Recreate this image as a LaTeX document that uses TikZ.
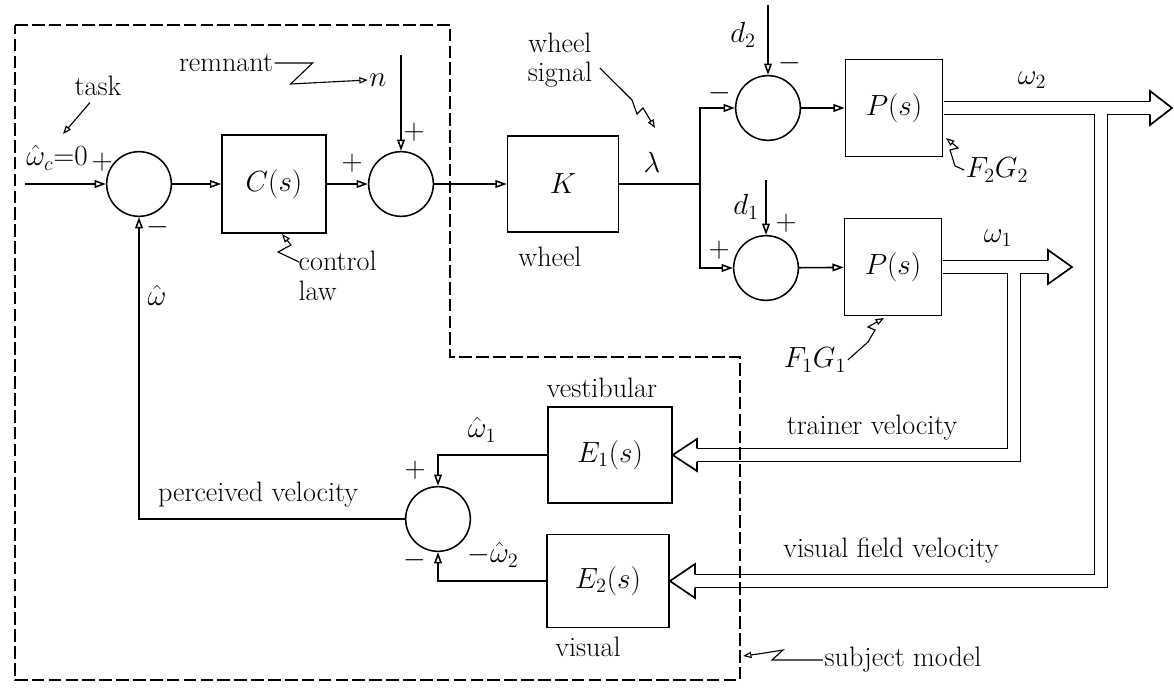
\documentclass[tikz,border=0pt]{standalone}
\usepackage{amsmath}
\usetikzlibrary{arrows.meta, calc}

\begin{document}
\begin{tikzpicture}[
    x=0.025cm, y=-0.025cm,
    every node/.style = {font=\fontsize{20}{21}\selectfont},
    block/.style    = {rectangle, draw, line width=1.1pt,
                       font=\fontsize{22}{24}\selectfont},
    sumpt/.style    = {circle, draw, line width=1.1pt,
                       minimum size=46pt, inner sep=0pt},
    lbl/.style      = {inner sep=1pt},
    sig/.style      = {-{Triangle[open, length=8pt, width=5.5pt]}, line width=1.1pt},
    note/.style     = {-{Triangle[open, length=6pt, width=4.5pt]}, line width=0.8pt},
    pipeout/.style  = {line width=10.6pt, line join=miter},
    pipein/.style   = {line width=8.2pt, white, line join=miter},
    fathead/.style  = {draw, fill=white, line width=1.2pt, line join=miter},
    boundary/.style = {dash pattern=on 9pt off 3pt, line width=1.1pt}
]
\useasboundingbox (0,0) rectangle (1174,690);

% ========= forward path =========
\node[sumpt]                                            (s1) at (139,184) {};
\node[block, minimum width=74pt, minimum height=70pt]   (C)  at (274,184) {$C(s)$};
\node[sumpt]                                            (s2) at (401,184) {};
\node[block, minimum width=79pt, minimum height=68pt]   (K)  at (563,184) {$K$};
\node[sumpt]                                            (s3) at (768,108) {};
\node[sumpt]                                            (s4) at (766,268) {};
\node[block, minimum width=69pt, minimum height=69pt]   (P2) at (894,108) {$P(s)$};
\node[block, minimum width=69pt, minimum height=69pt]   (P1) at (893,267) {$P(s)$};

% ========= perception path =========
\node[block, minimum width=88pt, minimum height=68pt]   (E1) at (610,455) {$E_1(s)$};
\node[block, minimum width=87pt, minimum height=66pt]   (E2) at (608,581) {$E_2(s)$};
\node[sumpt]                                            (s5) at (438,519) {};

\coordinate (wcin) at (25,184);
\coordinate (nin)  at (401,55);
\coordinate (lam)  at (700,184);
\coordinate (d2in) at (768,5);
\coordinate (d1in) at (766,180);

\draw[sig] (wcin) -- (s1);
\draw[sig] (s1)   -- (C);
\draw[sig] (C)    -- (s2);
\draw[sig] (nin)  -- (s2);
\draw[sig] (s2)   -- (K);
\draw[line width=1.1pt] (K) -- (lam);
\draw[sig] (lam)  |- (s3);
\draw[sig] (lam)  |- (s4);
\draw[sig] (d2in) -- (s3);
\draw[sig] (d1in) -- (s4);
\draw[sig] (s3)   -- (P2);
\draw[sig] (s4)   -- (P1);
\draw[sig] (E1)   -| (s5);
\draw[sig] (E2)   -| (s5);
\draw[sig] (s5)   -| (s1);

% ========= trainer / visual field velocity pipes =========
\coordinate (w2end) at (1150,108);
\coordinate (w2tip) at (1172,108);
\coordinate (w2j)   at (1101,108);
\coordinate (w2c)   at (1101,581);
\coordinate (e2base) at (695,581);
\coordinate (w1end) at (1048,267);
\coordinate (w1tip) at (1072,267);
\coordinate (w1j)   at (1014,267);
\coordinate (w1c)   at (1014,455);
\coordinate (e1base) at (697,455);

\draw[pipeout] ([xshift=0.55pt]P2.east) -- (w2end);
\draw[pipeout] (w2j) -- (w2c) -- (e2base);
\draw[pipeout] ([xshift=0.55pt]P1.east) -- (w1end);
\draw[pipeout] (w1j) -- (w1c) -- (e1base);
\draw[pipein]  ([xshift=0.55pt]P2.east) -- (w2end);
\draw[pipein]  (w2j) -- (w2c) -- (e2base);
\draw[pipein]  ([xshift=0.55pt]P1.east) -- (w1end);
\draw[pipein]  (w1j) -- (w1c) -- (e1base);

\draw[fathead] ($(w2end)+(0,-6.7)$) -- ($(w2end)+(0,-17)$) -- (w2tip)
               -- ($(w2end)+(0,17)$) -- ($(w2end)+(0,6.7)$);
\draw[fathead] ($(w1end)+(0,-6.7)$) -- ($(w1end)+(0,-17)$) -- (w1tip)
               -- ($(w1end)+(0,17)$) -- ($(w1end)+(0,6.7)$);
\draw[fathead] ($(e1base)+(0,-6.7)$) -- ($(e1base)+(0,-16)$) -- (E1.east)
               -- ($(e1base)+(0,16)$) -- ($(e1base)+(0,6.7)$);
\draw[fathead] ($(e2base)+(0,-6.7)$) -- ($(e2base)+(0,-17)$) -- (E2.east)
               -- ($(e2base)+(0,17)$) -- ($(e2base)+(0,6.7)$);

% ========= signs and signal labels =========
\node[lbl] (wc)    at (57,158)  {$\hat{\omega}_c{=}0$};
\node[lbl] (pl1)   at (102,162) {$+$};
\node[lbl] (mi1)   at (158,227) {$-$};
\node[lbl] (what)  at (157,295) {$\hat{\omega}$};
\node[lbl] (pl2a)  at (352,163) {$+$};
\node[lbl] (pl2b)  at (414,132) {$+$};
\node[lbl] (n)     at (378,80)  {$n$};
\node[lbl] (lambda) at (652,162) {$\lambda$};
\node[lbl] (mi3a)  at (720,93)  {$-$};
\node[lbl] (d2)    at (743,35)  {$d_2$};
\node[lbl] (mi3b)  at (790,63)  {$-$};
\node[lbl] (d1)    at (746,207) {$d_1$};
\node[lbl] (pl4a)  at (719,250) {$+$};
\node[lbl] (pl4b)  at (786,223) {$+$};
\node[lbl] (w2)    at (1032,80) {$\omega_2$};
\node[lbl] (w1)    at (998,238) {$\omega_1$};
\node[lbl] (wh1)   at (482,430) {$\hat{\omega}_1$};
\node[lbl] (pl5)   at (415,470) {$+$};
\node[lbl] (mi5)   at (415,560) {$-$};
\node[lbl] (wh2)   at (493,555) {$-\hat{\omega}_2$};

% ========= notes =========
\node[lbl] (task)    at (98,86)   {task};
\node[lbl] (remnant) at (226,63)  {remnant};
\node[lbl, align=left, anchor=west] (ctl) at (297,276) {control\\law};
\node[lbl] (wheel)   at (550,257) {wheel};
\node[lbl, align=center] (wsig) at (560,60) {wheel\\signal};
\node[lbl] (fg2)     at (997,170) {$F_2G_2$};
\node[lbl] (fg1)     at (815,360) {$F_1G_1$};
\node[lbl] (vest)    at (602,388) {vestibular};
\node[lbl] (vis)     at (588,647) {visual};
\node[lbl] (perc)    at (258,495) {perceived velocity};
\node[lbl] (trv)     at (872,428) {trainer velocity};
\node[lbl] (vfv)     at (891,550) {visual field velocity};
\node[lbl] (subj)    at (903,660) {subject model};

\coordinate (tasktip) at (63,134);
\coordinate (ctip)    at (282,234);
\coordinate (wstip)   at (655,128);
\coordinate (f2tip)   at (946,138);
\coordinate (f1tip)   at (884,318);
\coordinate (smtip)   at (743,656);

\draw[note] ($(task.south)+(-8,5)$) -- (tasktip);
\draw[note] (remnant.east) -- ++(38,0) -- ++(-22,21) -- (n.west);
\draw[note] ($(ctl.west)+(2,-14)$) -- (278,252) -- (291,245) -- (ctip);
\draw[note] ($(wsig.east)+(6,8)$) -- (632,100) -- (637,114) -- (643,108) -- (wstip);
\draw[note] (fg2.west) -- (955,166) -- (950,150) -- (958,148) -- (f2tip);
\draw[note] (fg1.east) -- (868,342) -- (875,330) -- (868,327) -- (f1tip);
\draw[note] (subj.west) -- (772,660) -- (783,650) -- (758,654) -- (smtip);

% ========= subject model frame =========
\draw[boundary] (15,25) -- (450,25) -- (450,357) -- (740,357)
                -- (740,680) -- (15,680) -- cycle;

\end{tikzpicture}
\end{document}
